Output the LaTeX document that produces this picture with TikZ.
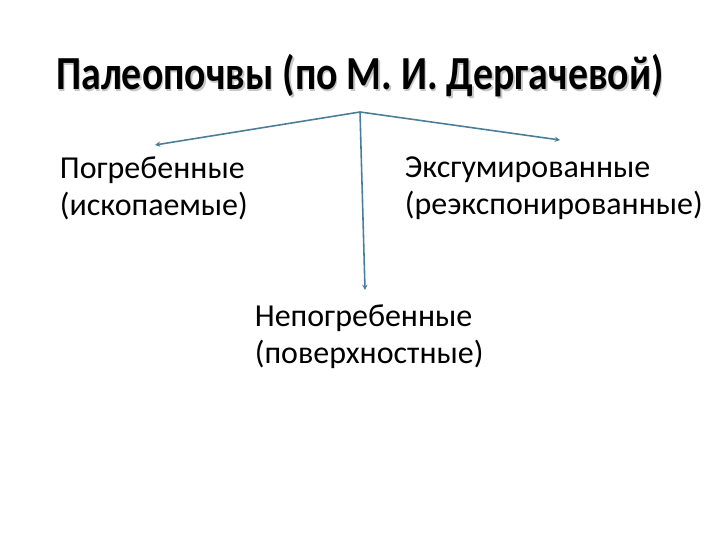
\documentclass[tikz,border=0pt]{standalone}
\usepackage{fontspec}
\setmainfont{Carlito}
\usetikzlibrary{arrows.meta}

\tikzset{
    kind/.style={align=left, inner sep=2pt, font=\fontsize{18.2}{21}\selectfont},
    heading/.style={font=\bfseries\fontsize{27}{32}\selectfont, xscale=0.84},
    branch/.style={-{Stealth[length=3pt,width=3pt]}, draw={rgb,255:red,74;green,126;blue,150}, line width=0.9pt}
}

\begin{document}
\begin{tikzpicture}[x=0.02cm, y=-0.02cm]
    \useasboundingbox (0,0) rectangle (720,540);
    \node[heading, text=black!22] at (361.5,77.5) {Палеопочвы (по М. И. Дергачевой)};
    \node[heading] (title) at (360,76) {Палеопочвы (по М. И. Дергачевой)};
    \node[kind, anchor=north west] (buried) at (56,153) {Погребенные\\(ископаемые)};
    \node[kind, anchor=north west] (exhumed) at (401,153) {Эксгумированные\\(реэкспонированные)};
    \node[kind, anchor=north west] (surface) at (251,301) {Непогребенные\\(поверхностные)};
    % arrow ends
    \coordinate (top) at (360,112);
    \coordinate (buriedtip) at (155,145);
    \coordinate (exhumedtip) at (560,140);
    \coordinate (surfacetip) at (365,290);
    \draw[branch] (top) -- (buriedtip);
    \draw[branch] (top) -- (exhumedtip);
    \draw[branch] (top) -- (surfacetip);
\end{tikzpicture}
\end{document}
